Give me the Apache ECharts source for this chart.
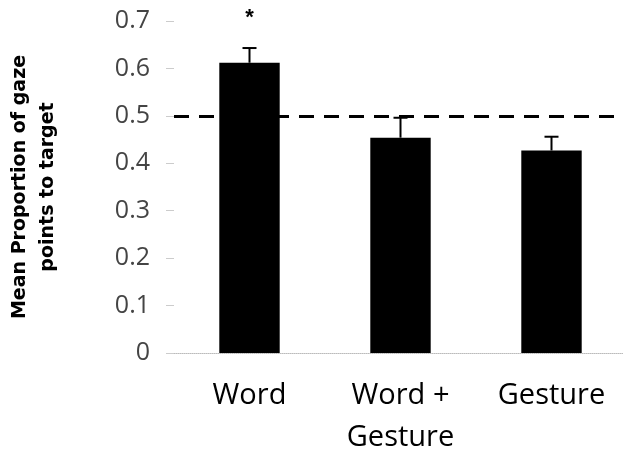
<!DOCTYPE html>
<html>
<head>
<meta charset="utf-8">
<script src="https://cdn.jsdelivr.net/npm/echarts@6/dist/echarts.min.js"></script>
<style>
  html, body { margin: 0; padding: 0; background: #fff; }
  #chart { width: 623px; height: 453px; }
</style>
</head>
<body>
<div id="chart"></div>
<script>
// values
var categories = ['Word', 'Word +\nGesture', 'Gesture'];
var means = [0.612, 0.454, 0.427];
var errUpper = [0.643, 0.496, 0.456];
var chanceLevel = 0.5;
var yTicks = [0, 0.1, 0.2, 0.3, 0.4, 0.5, 0.6, 0.7];

var chart = echarts.init(document.getElementById('chart'));

var barData = means.map(function (v, i) {
  if (i === 0) {
    return {
      value: v,
      label: { show: true, formatter: '*', position: 'top', distance: 34, fontSize: 22, fontWeight: 'bold', color: '#000' }
    };
  }
  return v;
});

var option = {
  animation: false,
  grid: { left: 174, right: -4, top: 21, bottom: 100, outerBoundsMode: 'none', containLabel: false },
  xAxis: {
    type: 'category',
    data: categories,
    axisLine: { show: true, lineStyle: { color: '#bbb', type: 'dotted', width: 1 } },
    axisTick: { show: false },
    axisLabel: {
      margin: 22,
      fontFamily: 'Open Sans',
      fontSize: 29,
      lineHeight: 42,
      color: '#000'
    }
  },
  yAxis: {
    type: 'value',
    min: 0,
    max: 0.7,
    interval: 0.1,
    name: 'Mean Proportion of gaze\npoints to target',
    nameLocation: 'middle',
    nameGap: 112,
    nameTextStyle: {
      fontFamily: 'DejaVu Sans',
      fontWeight: 'bold',
      fontSize: 19,
      lineHeight: 28,
      color: '#000'
    },
    axisLine: { show: false },
    axisTick: { show: true, length: 8, lineStyle: { color: '#ccc' } },
    splitLine: { show: false },
    axisLabel: {
      margin: 24,
      fontFamily: 'Open Sans',
      fontSize: 25,
      color: '#444',
      formatter: function (v) {
        var t = yTicks.find(function (k) { return Math.abs(k - v) < 1e-6; });
        return t === 0 ? '0' : String(t);
      }
    }
  },
  series: [
    {
      type: 'bar',
      data: barData,
      barWidth: '40%',
      itemStyle: { color: '#000' },
      markLine: {
        silent: true,
        symbol: 'none',
        label: { show: false },
        lineStyle: { color: '#000', type: [15, 10], width: 3 },
        data: [{ yAxis: chanceLevel }]
      }
    },
    {
      type: 'custom',
      data: means.map(function (v, i) { return [i, v, errUpper[i]]; }),
      z: 5,
      renderItem: function (params, api) {
        var lo = api.coord([api.value(0), api.value(1)]);
        var hi = api.coord([api.value(0), api.value(2)]);
        var half = 7;
        return {
          type: 'group',
          children: [
            { type: 'line', shape: { x1: lo[0], y1: lo[1], x2: hi[0], y2: hi[1] }, style: { stroke: '#000', lineWidth: 2 } },
            { type: 'line', shape: { x1: hi[0] - half, y1: hi[1], x2: hi[0] + half, y2: hi[1] }, style: { stroke: '#000', lineWidth: 2 } }
          ]
        };
      }
    }
  ]
};

chart.setOption(option);
</script>
</body>
</html>
